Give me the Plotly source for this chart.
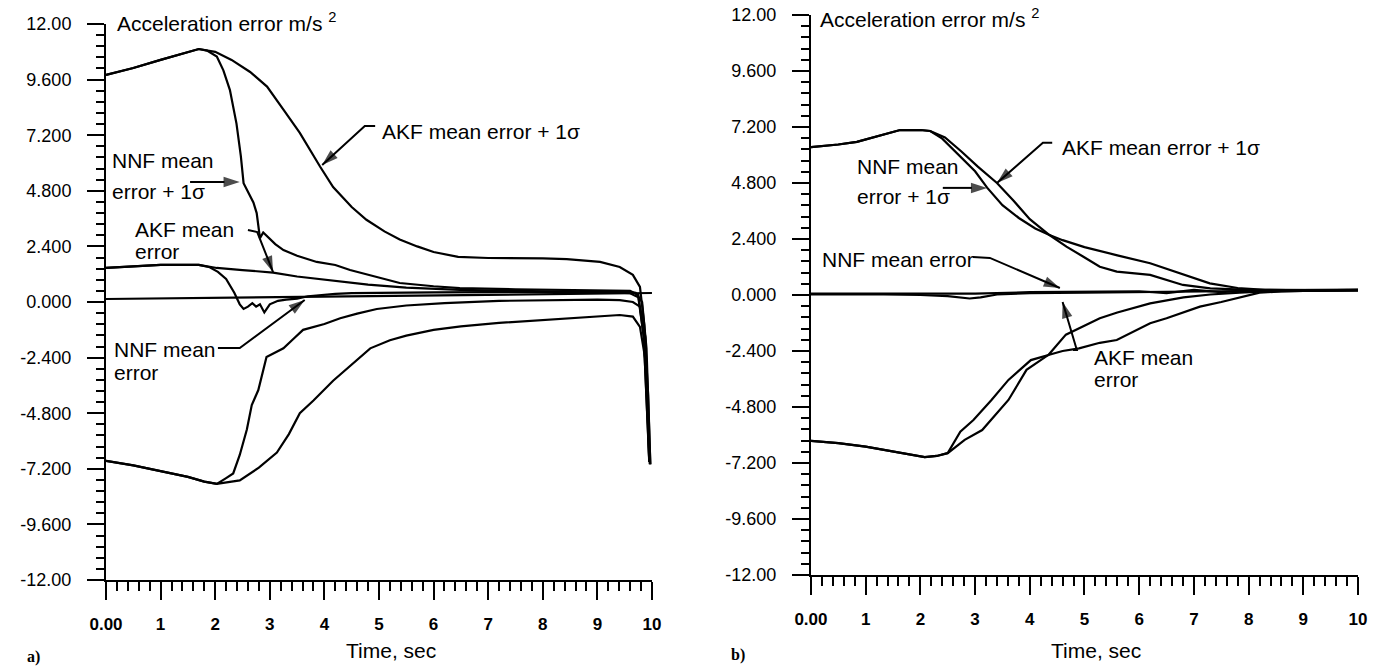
import plotly.graph_objects as go

# ================= DATA =================
# ---- panel a) ----
ta_up_common = [0, 0.5, 1.0, 1.5, 1.7]
ya_up_common = [9.8, 10.1, 10.45, 10.8, 10.92]
ta_akf_up = [2.0, 2.3, 2.64, 2.95, 3.25, 3.55, 3.92, 4.16, 4.5, 4.77, 5.1, 5.38, 5.7, 6.0, 6.45,
             7.0, 8.0, 8.44, 9.05, 9.41, 9.65, 9.78, 9.86, 9.93, 9.97]
ya_akf_up = [10.8, 10.45, 9.93, 9.3, 8.3, 7.3, 5.85, 4.96, 4.1, 3.55, 3.05, 2.7, 2.4, 2.16, 1.95,
             1.9, 1.88, 1.85, 1.73, 1.51, 1.17, 0.65, -1.0, -4.0, -7.0]
ta_nnf_up = [1.85, 2.03, 2.15, 2.27, 2.39, 2.47, 2.52, 2.58, 2.7, 2.76, 2.82, 2.88, 2.95, 3.1, 3.25,
             3.5, 3.86, 4.2, 4.47, 5.0, 5.38, 6.0, 6.48, 7.5, 8.5, 9.3, 9.6, 9.75, 9.85, 9.95]
ya_nnf_up = [10.85, 10.6, 10.0, 9.15, 7.7, 6.3, 5.13, 4.83, 4.3, 3.84, 2.76, 3.0, 2.85, 2.5, 2.24,
             2.0, 1.73, 1.6, 1.38, 1.05, 0.82, 0.68, 0.6, 0.55, 0.52, 0.5, 0.48, 0.3, -1.5, -6.8]
ta_akf_mean = [0, 0.5, 1.0, 1.7, 2.03, 2.5, 3.06, 3.5, 4.16, 4.8, 5.5, 6.48, 7.5, 8.5, 9.3, 9.6,
               9.75, 9.85, 9.95]
ya_akf_mean = [1.47, 1.55, 1.6, 1.6, 1.47, 1.38, 1.27, 1.1, 0.92, 0.75, 0.62, 0.52, 0.48, 0.45,
               0.42, 0.38, 0.2, -1.5, -6.9]
ta_nnf_mean = [0, 0.5, 1.0, 1.7, 1.9, 2.05, 2.2, 2.35, 2.45, 2.52, 2.6, 2.68, 2.75, 2.82, 2.9, 3.0,
               3.15, 3.3, 3.5, 3.7, 3.9, 4.2, 4.5, 5.0, 6.0, 7.0, 8.0, 9.0, 9.5, 9.7, 9.82, 9.9, 9.97]
ya_nnf_mean = [1.47, 1.55, 1.6, 1.6, 1.5, 1.3, 1.0, 0.4, -0.1, -0.3, -0.2, -0.05, -0.2, -0.1, -0.45,
               -0.1, 0.05, 0.1, 0.15, 0.25, 0.3, 0.35, 0.38, 0.4, 0.42, 0.43, 0.44, 0.45, 0.45, 0.4,
               0.0, -2.0, -7.0]
ta_ref = [0, 10]
ya_ref = [0.13, 0.39]
ta_lo_common = [0, 0.5, 1.0, 1.5, 1.8, 2.03]
ya_lo_common = [-6.86, -7.05, -7.3, -7.55, -7.75, -7.85]
ta_akf_lo = [2.45, 2.8, 3.13, 3.35, 3.55, 3.8, 4.16, 4.5, 4.84, 5.2, 5.5, 6.0, 6.5, 7.2, 8.0, 8.8,
             9.41, 9.65, 9.78, 9.88, 9.96]
ya_akf_lo = [-7.7, -7.15, -6.5, -5.7, -4.8, -4.25, -3.4, -2.7, -2.0, -1.65, -1.45, -1.2, -1.05,
             -0.9, -0.78, -0.65, -0.56, -0.63, -1.07, -2.5, -7.0]
ta_nnf_lo = [2.2, 2.33, 2.45, 2.58, 2.67, 2.79, 2.94, 3.05, 3.25, 3.45, 3.61, 4.0, 4.29, 4.6, 4.96,
             5.5, 6.2, 7.2, 8.0, 9.0, 9.41, 9.65, 9.78, 9.88, 9.95]
ya_nnf_lo = [-7.6, -7.4, -6.6, -5.5, -4.45, -3.8, -2.37, -2.25, -2.0, -1.55, -1.2, -0.95, -0.7,
             -0.5, -0.3, -0.15, -0.05, 0.05, 0.08, 0.1, 0.08, 0.0, -0.2, -1.5, -6.9]

# ---- panel b) ----
tb_up_common = [0, 0.5, 0.84, 1.2, 1.63, 2.0, 2.18]
yb_up_common = [6.34, 6.45, 6.56, 6.8, 7.07, 7.07, 7.03]
tb_nnf_up = [2.4, 2.7, 3.0, 3.22, 3.5, 3.8, 4.1, 4.36, 4.6, 5.0, 5.28, 5.6, 6.2, 6.8, 7.29, 7.8,
             8.3, 9.0, 10.0]
yb_nnf_up = [6.7, 6.0, 5.3, 4.6, 3.85, 3.3, 2.85, 2.57, 2.35, 2.05, 1.9, 1.7, 1.36, 0.9, 0.5, 0.3,
             0.22, 0.2, 0.21]
tb_akf_up = [2.45, 2.75, 3.05, 3.4, 3.7, 4.0, 4.36, 4.67, 4.98, 5.28, 5.59, 6.2, 6.8, 7.3, 8.0,
             9.0, 10.0]
yb_akf_up = [6.75, 6.15, 5.5, 4.8, 4.05, 3.25, 2.57, 2.07, 1.64, 1.21, 1.0, 0.86, 0.43, 0.28,
             0.22, 0.2, 0.21]
tb_lo_common = [0, 0.5, 1.0, 1.5, 2.08, 2.3, 2.5]
yb_lo_common = [-6.25, -6.35, -6.5, -6.7, -6.95, -6.9, -6.78]
tb_nnf_lo = [2.73, 2.97, 3.3, 3.61, 4.02, 4.34, 4.66, 5.0, 5.28, 5.6, 6.2, 6.81, 7.3, 7.84, 8.3,
             9.0, 10.0]
yb_nnf_lo = [-5.86, -5.36, -4.5, -3.64, -2.79, -2.57, -1.7, -1.3, -1.0, -0.75, -0.36, -0.1, 0.02,
             0.1, 0.15, 0.18, 0.2]
tb_akf_lo = [2.81, 3.13, 3.61, 3.94, 4.34, 4.6, 4.9, 5.28, 5.59, 5.94, 6.2, 6.5, 7.11, 7.5, 7.9,
             8.2, 8.6, 9.0, 10.0]
yb_akf_lo = [-6.21, -5.79, -4.5, -3.21, -2.57, -2.4, -2.29, -2.05, -1.93, -1.5, -1.21, -1.0, -0.5,
             -0.3, -0.07, 0.1, 0.15, 0.18, 0.2]
tb_nnf_mean = [0, 1, 2, 2.5, 2.9, 3.1, 3.4, 4, 5, 6, 7, 8, 9, 10]
yb_nnf_mean = [0.02, 0.04, 0.0, -0.05, -0.15, -0.1, 0.02, 0.08, 0.1, 0.12, 0.15, 0.18, 0.2, 0.22]
tb_akf_mean = [0, 1, 2, 3, 4, 5, 6, 6.5, 7, 7.5, 8, 9, 10]
yb_akf_mean = [0.06, 0.06, 0.05, 0.06, 0.12, 0.14, 0.16, 0.08, 0.22, 0.12, 0.2, 0.21, 0.23]

# ---- ticks ----
y_tickvals = [12, 9.6, 7.2, 4.8, 2.4, 0, -2.4, -4.8, -7.2, -9.6, -12]
y_ticktext = ["12.00", "9.600", "7.200", "4.800", "2.400", "0.000", "-2.400", "-4.800",
              "-7.200", "-9.600", "-12.00"]
x_tickvals = [0, 1, 2, 3, 4, 5, 6, 7, 8, 9, 10]
x_ticktext = ["0.00", "1", "2", "3", "4", "5", "6", "7", "8", "9", "10"]

# ---- callout labels: (text, t, y) ----
labels_a = [("AKF mean error + 1σ", 5.02, 7.34), ("NNF mean", 0.07, 6.13),
            ("error + 1σ", 0.07, 4.75), ("AKF mean", 0.49, 3.15), ("error", 0.49, 2.16),
            ("NNF mean", 0.11, -2.07), ("error", 0.11, -3.06)]
labels_b = [("AKF mean error + 1σ", 4.55, 6.34), ("NNF mean", 0.8, 5.49),
            ("error + 1σ", 0.8, 4.2), ("NNF mean error", 0.16, 1.54),
            ("AKF mean", 5.14, -2.7), ("error", 5.14, -3.64)]
# leader paths (t list, y list), last point = arrow tip
leaders_a = [([4.93, 4.74, 3.96], [7.6, 7.6, 5.91]),
             ([1.54, 2.45], [5.18, 5.18]),
             ([2.6, 2.77, 3.06], [3.11, 3.02, 1.29]),
             ([2.05, 2.45, 3.64], [-1.99, -1.99, 0.09])]
leaders_b = [([4.41, 4.24, 3.4], [6.52, 6.52, 4.8]),
             ([2.41, 3.22], [4.59, 4.59]),
             ([2.96, 3.27, 4.55], [1.63, 1.59, 0.3]),
             ([4.79, 4.86, 4.6], [-2.36, -2.36, -0.3])]

# ================= FIGURE =================
fig = go.Figure()


def add(x, y, xa, ya):
    fig.add_trace(go.Scatter(x=x, y=y, mode="lines", line=dict(color="black", width=2.2),
                             xaxis=xa, yaxis=ya, hoverinfo="skip", showlegend=False))


def leader(x, y, xa, ya):
    sizes = [0] * (len(x) - 1) + [17]
    fig.add_trace(go.Scatter(x=x, y=y, mode="lines+markers",
                             line=dict(color="black", width=2),
                             marker=dict(symbol="arrow", size=sizes, angleref="previous",
                                         color="black", line=dict(width=0)),
                             xaxis=xa, yaxis=ya, hoverinfo="skip", showlegend=False))


# panel a
add(ta_up_common + ta_akf_up, ya_up_common + ya_akf_up, "x", "y")
add(ta_up_common + ta_nnf_up, ya_up_common + ya_nnf_up, "x", "y")
add(ta_akf_mean, ya_akf_mean, "x", "y")
add(ta_nnf_mean, ya_nnf_mean, "x", "y")
add(ta_ref, ya_ref, "x", "y")
add(ta_lo_common + ta_akf_lo, ya_lo_common + ya_akf_lo, "x", "y")
add(ta_lo_common + ta_nnf_lo, ya_lo_common + ya_nnf_lo, "x", "y")
# panel b
add(tb_up_common + tb_nnf_up, yb_up_common + yb_nnf_up, "x2", "y2")
add(tb_up_common + tb_akf_up, yb_up_common + yb_akf_up, "x2", "y2")
add(tb_lo_common + tb_nnf_lo, yb_lo_common + yb_nnf_lo, "x2", "y2")
add(tb_lo_common + tb_akf_lo, yb_lo_common + yb_akf_lo, "x2", "y2")
add(tb_nnf_mean, yb_nnf_mean, "x2", "y2")
add(tb_akf_mean, yb_akf_mean, "x2", "y2")

for lx, ly in leaders_a:
    leader(lx, ly, "x", "y")
for lx, ly in leaders_b:
    leader(lx, ly, "x2", "y2")

FONT = "Liberation Sans, Arial, Helvetica, sans-serif"

xcommon = dict(range=[0, 10], showline=True, linecolor="black", linewidth=2, showgrid=False,
               zeroline=False, ticks="outside", ticklen=18, tickwidth=2, tickcolor="black",
               tickvals=x_tickvals, ticktext=x_ticktext, ticklabelstandoff=10,
               tickfont=dict(family=FONT, size=17, color="black", weight="bold"),
               minor=dict(tickmode="linear", tick0=0, dtick=0.2, ticks="outside", ticklen=9,
                          tickwidth=1.5, tickcolor="black", showgrid=False),
               automargin=False, fixedrange=True)
ycommon = dict(range=[-12, 12], showline=True, linecolor="black", linewidth=2, showgrid=False,
               zeroline=False, ticks="outside", ticklen=17, tickwidth=2, tickcolor="black",
               tickvals=y_tickvals, ticktext=y_ticktext, ticklabelstandoff=12,
               tickfont=dict(family=FONT, size=18, color="black"),
               minor=dict(tickmode="linear", tick0=0, dtick=0.48, ticks="outside", ticklen=8,
                          tickwidth=1.5, tickcolor="black", showgrid=False),
               automargin=False, fixedrange=True)

fig.update_layout(
    width=1391, height=667,
    margin=dict(l=0, r=0, t=0, b=0, autoexpand=False),
    paper_bgcolor="white", plot_bgcolor="white",
    showlegend=False,
    xaxis=dict(xcommon, domain=[0.0762, 0.4687], anchor="y"),
    yaxis=dict(ycommon, domain=[0.1304, 0.964], anchor="x"),
    xaxis2=dict(xcommon, domain=[0.583, 0.9763], anchor="y2"),
    yaxis2=dict(ycommon, domain=[0.138, 0.9775], anchor="x2"),
)

TF = dict(family=FONT, size=21, color="black")
ann = []
for txt, lx, ly in labels_a:
    ann.append(dict(text=txt, x=lx, y=ly, xref="x", yref="y", showarrow=False,
                    xanchor="left", yanchor="middle", font=TF))
for txt, lx, ly in labels_b:
    ann.append(dict(text=txt, x=lx, y=ly, xref="x2", yref="y2", showarrow=False,
                    xanchor="left", yanchor="middle", font=TF))

ann.append(dict(text="Acceleration error m/s <sup>2</sup>", x=115 / 1391, y=1 - 22 / 667,
                xref="paper", yref="paper", showarrow=False, xanchor="left",
                yanchor="middle", font=TF))
ann.append(dict(text="Acceleration error m/s <sup>2</sup>", x=818 / 1391, y=1 - 18 / 667,
                xref="paper", yref="paper", showarrow=False, xanchor="left",
                yanchor="middle", font=TF))
ann.append(dict(text="Time, sec", x=391 / 1391, y=1 - 650 / 667, xref="paper", yref="paper",
                showarrow=False, xanchor="center", yanchor="middle", font=TF))
ann.append(dict(text="Time, sec", x=1096 / 1391, y=1 - 650 / 667, xref="paper", yref="paper",
                showarrow=False, xanchor="center", yanchor="middle", font=TF))
LF = dict(family="Liberation Serif, Times New Roman, serif", size=16, color="black",
          weight="bold")
ann.append(dict(text="a)", x=33 / 1391, y=1 - 657 / 667, xref="paper", yref="paper",
                showarrow=False, xanchor="center", yanchor="middle", font=LF))
ann.append(dict(text="b)", x=738 / 1391, y=1 - 655 / 667, xref="paper", yref="paper",
                showarrow=False, xanchor="center", yanchor="middle", font=LF))

fig.update_layout(annotations=ann)

fig.write_html("out.html", config={"displayModeBar": False},
               post_script="document.body.style.margin='0';document.body.style.overflow='hidden';")
